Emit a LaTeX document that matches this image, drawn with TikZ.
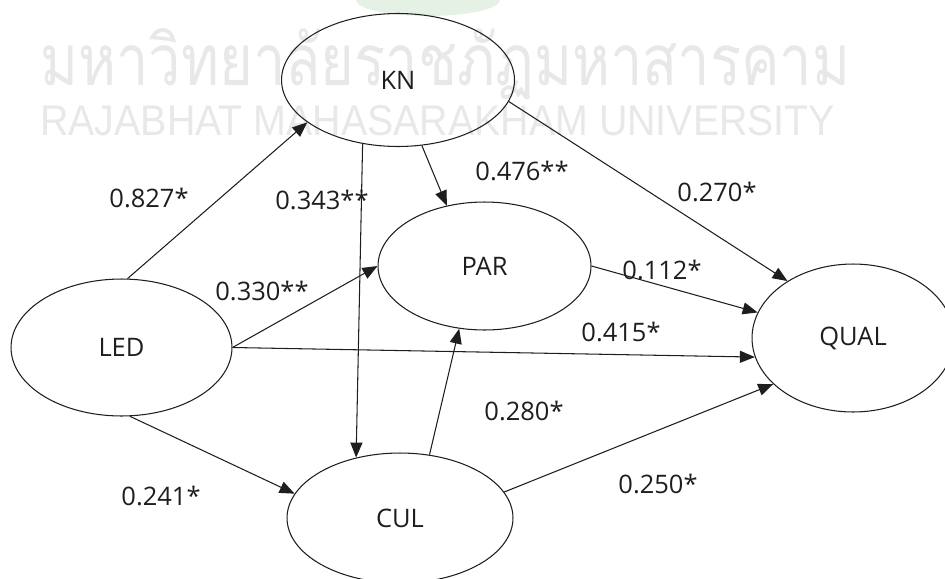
\documentclass[tikz,border=0pt]{standalone}
\usepackage{fontspec}
\usepackage{graphicx}
\setmainfont{Open Sans}
\newfontfamily\thaifont[Script=Thai]{Loma}
\newfontfamily\wmfont{Liberation Sans}
\usetikzlibrary{arrows.meta, shapes.geometric}
\definecolor{watermark}{RGB}{232,232,232}
\definecolor{crest}{RGB}{230,241,230}
\definecolor{ink}{RGB}{30,30,30}

\begin{document}
\begin{tikzpicture}[
    x=0.02cm, y=-0.02cm,
    latent/.style={draw=ink, ellipse, inner sep=0pt, line width=0.6pt, font=\fontsize{14.5}{17}\selectfont, text=ink},
    arrow/.style={-{Triangle[length=0.3cm, width=0.24cm]}, line width=0.6pt, draw=ink},
    coef/.style={font=\fontsize{14.5}{17}\selectfont, text=ink, inner sep=0pt}
]
\clip (0,0) rectangle (945,578);

% university watermark behind the model
\fill[crest] (428,0) ellipse [x radius=72, y radius=16];
\node[anchor=base west, inner sep=0pt, text=watermark] (wmthai) at (40,85) {\resizebox{16.2cm}{1.14cm}{\thaifont มหาวิทยาลัยราชภัฏมหาสารคาม}};
\node[anchor=base west, inner sep=0pt, text=watermark] (wmeng) at (40,135) {\resizebox{15.9cm}{0.6cm}{\wmfont RAJABHAT MAHASARAKHAM UNIVERSITY}};

\node[latent, minimum width=4.66cm, minimum height=2.66cm] (KN) at (398,80) {KN};
\node[latent, minimum width=4.26cm, minimum height=2.56cm] (PAR) at (484.5,266) {PAR};
\node[latent, minimum width=4.42cm, minimum height=2.74cm] (LED) at (121.5,347.5) {LED};
\node[latent, minimum width=4.04cm, minimum height=2.96cm] (QUAL) at (853,338) {QUAL};
\node[latent, minimum width=4.52cm, minimum height=2.6cm] (CUL) at (400,518) {CUL};

\draw[arrow] (LED.85) -- (KN.205);
\draw[arrow] (LED.east) -- (PAR.west);
\draw[arrow] (LED.east) -- (QUAL.191);
\draw[arrow] (LED.277) -- (CUL.167);
\draw[arrow] (KN.241) -- (CUL.126);
\draw[arrow] (KN.290) -- (PAR.122);
\draw[arrow] (KN.349) -- (QUAL.139);
\draw[arrow] (PAR.east) -- (QUAL.165);
\draw[arrow] (CUL.65) -- (PAR.248);
\draw[arrow] (CUL.14) -- (QUAL.210);

\node[coef] (ledkn) at (149,198) {0.827*};
\node[coef] (kncul) at (322,200) {0.343**};
\node[coef] (ledpar) at (262,291) {0.330**};
\node[coef] (knpar) at (522,171) {0.476**};
\node[coef] (knqual) at (717,192) {0.270*};
\node[coef] (parqual) at (662,270) {0.112*};
\node[coef] (ledqual) at (621,332) {0.415*};
\node[coef] (culpar) at (524,411) {0.280*};
\node[coef] (culqual) at (658,484) {0.250*};
\node[coef] (ledcul) at (161,496) {0.241*};

\end{tikzpicture}
\end{document}
